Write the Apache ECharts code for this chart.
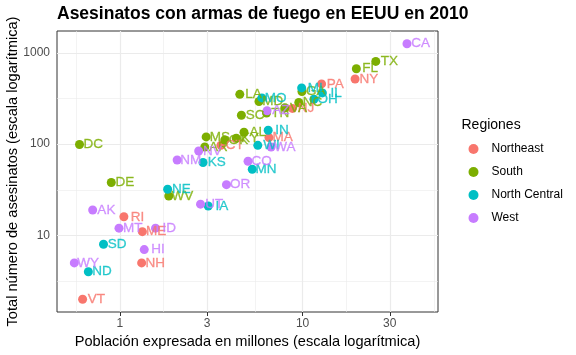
<!DOCTYPE html>
<html>
<head>
<meta charset="utf-8">
<script src="https://cdn.jsdelivr.net/npm/echarts@6/dist/echarts.min.js"></script>
<style>html,body{margin:0;padding:0;background:#fff}#c{width:576px;height:355px}</style>
</head>
<body>
<div id="c"></div>
<script>
// ---- data (dslabs murders, 2010) ----
const abb = ["AL","AK","AZ","AR","CA","CO","CT","DE","DC","FL","GA","HI","ID","IL","IN","IA","KS","KY","LA","ME","MD","MA","MI","MN","MS","MO","MT","NE","NV","NH","NJ","NM","NY","NC","ND","OH","OK","OR","PA","RI","SC","SD","TN","TX","UT","VT","VA","WA","WV","WI","WY"];
const region = ["South","West","West","South","West","West","Northeast","South","South","South","South","West","West","North Central","North Central","North Central","North Central","South","South","Northeast","South","Northeast","North Central","North Central","South","North Central","West","North Central","West","Northeast","Northeast","West","Northeast","South","North Central","North Central","South","West","Northeast","Northeast","South","North Central","South","South","West","Northeast","South","West","South","North Central","West"];
const population = [4779736,710231,6392017,2915918,37253956,5029196,3574097,897934,601723,19687653,9920000,1360301,1567582,12830632,6483802,3046355,2853118,4339367,4533372,1328361,5773552,6547629,9883640,5303925,2967297,5988927,989415,1826341,2700551,1316470,8791894,2059179,19378102,9535483,672591,11536504,3751351,3831074,12702379,1052567,4625364,814180,6346105,25145561,2763885,625741,8001024,6724540,1852994,5686986,563626];
const total = [135,19,232,93,1257,65,97,38,99,669,376,7,12,364,142,21,63,116,351,11,293,118,413,53,120,321,12,32,84,5,246,67,517,286,4,310,111,36,457,16,207,8,219,805,22,2,250,93,27,97,5];
const regions = ["Northeast","South","North Central","West"];
const regionColors = ["#F8766D","#7CAE00","#00BFC4","#C77CFF"];
const xTicks = [1,3,10,30];
const yTicks = [10,100,1000];
const nudgeX = 0.075; // log10 units, as geom_text(nudge_x)

// ---- scales (log10) ----
const L = Math.log10;
const xs = population.map(p => L(p/1e6));
const ys = total.map(L);
const xAll = xs.concat(xs.map(v => v + nudgeX));
function expand(arr){const mn=Math.min(...arr),mx=Math.max(...arr),d=(mx-mn)*0.05;return [mn-d,mx+d];}
const xr = expand(xAll), yr = expand(ys);

function minors(major, r){
  const out=[]; const step0 = major[1]-major[0];
  const pts=[major[0]-step0/2];
  for(let i=0;i<major.length-1;i++) pts.push((major[i]+major[i+1])/2);
  const stepN = major[major.length-1]-major[major.length-2];
  pts.push(major[major.length-1]+stepN/2);
  pts.forEach(v=>{ if(v>r[0]&&v<r[1]) out.push(v); });
  return out;
}
const xMaj = xTicks.map(L), yMaj = yTicks.map(L);
const xMin = minors(xMaj, xr), yMin = minors(yMaj, yr);

const gridLines = [];
xMin.forEach(v=>gridLines.push({xAxis:v, lineStyle:{width:0.6}}));
yMin.forEach(v=>gridLines.push({yAxis:v, lineStyle:{width:0.6}}));
xMaj.forEach(v=>gridLines.push({xAxis:v, lineStyle:{width:1.2}}));
yMaj.forEach(v=>gridLines.push({yAxis:v, lineStyle:{width:1.2}}));

const FONT = "'Liberation Sans', Arial, Helvetica, sans-serif";

const series = [{
  type:'scatter', name:'_grid', data:[], silent:true, z:1,
  markLine:{silent:true, z:1, symbol:['none','none'], label:{show:false}, animation:false,
    lineStyle:{color:'#EBEBEB', type:'solid'}, emphasis:{disabled:true}, data:gridLines}
}];
regions.forEach((rg,ri)=>{
  const pts=[];
  region.forEach((r,i)=>{ if(r===rg) pts.push([xs[i], ys[i], abb[i]]); });
  series.push({type:'scatter', name:rg, data:pts, symbol:'circle', symbolSize:9, z:10,
    itemStyle:{color:regionColors[ri], opacity:1}, emphasis:{disabled:true}});
});
regions.forEach((rg,ri)=>{
  const pts=[];
  region.forEach((r,i)=>{ if(r===rg) pts.push([xs[i]+nudgeX, ys[i], abb[i]]); });
  series.push({type:'scatter', name:rg+'_lab', data:pts, symbolSize:1, z:11, silent:true,
    itemStyle:{color:'rgba(0,0,0,0)'}, emphasis:{disabled:true},
    label:{show:true, position:'inside', formatter:p=>p.data[2], color:regionColors[ri],
      textBorderWidth:0.3, textBorderColor:regionColors[ri], textShadowBlur:0,
      fontSize:13.5, fontFamily:FONT, align:'center', verticalAlign:'middle'}});
});

const chart = echarts.init(document.getElementById('c'), null, {renderer:'canvas'});
chart.setOption({
  animation:false,
  backgroundColor:'#fff',
  title:[
    {text:'Asesinatos con armas de fuego en EEUU en 2010', left:57, top:5, padding:0,
      textStyle:{fontSize:17.5, fontWeight:'bold', color:'#000', fontFamily:FONT}},
    {text:'Regiones', left:461.5, top:118, padding:0, textStyle:{fontSize:14, fontWeight:'normal', color:'#000', fontFamily:FONT}}
  ],
  legend:{data:regions, orient:'vertical', left:468.5, top:142, padding:0, itemWidth:10, itemHeight:10, itemGap:9,
    icon:'circle', selectedMode:false,
    textStyle:{fontSize:12, color:'#000', fontFamily:FONT, lineHeight:14, padding:[0,0,0,8]}},
  grid:{left:57, top:31, right:138, bottom:43, show:true, borderColor:'#333333', borderWidth:1, backgroundColor:'#fff',
    containLabel:false, outerBoundsMode:'none'},
  xAxis:{type:'value', min:xr[0], max:xr[1], splitLine:{show:false},
    axisLine:{show:false}, axisTick:{show:true, customValues:xMaj, length:4, lineStyle:{color:'#333333'}},
    axisLabel:{customValues:xMaj, formatter:v=>String(Math.round(Math.pow(10,v))), color:'#4D4D4D', fontSize:12, margin:6, fontFamily:FONT},
    name:'Población expresada en millones (escala logarítmica)', nameLocation:'middle', nameGap:22, nameMoveOverlap:false,
    nameTextStyle:{fontSize:14.6, color:'#000', fontFamily:FONT, verticalAlign:'top'}},
  yAxis:{type:'value', min:yr[0], max:yr[1], splitLine:{show:false},
    axisLine:{show:false}, axisTick:{show:true, customValues:yMaj, length:4, lineStyle:{color:'#333333'}},
    axisLabel:{customValues:yMaj, formatter:v=>String(Math.round(Math.pow(10,v))), color:'#4D4D4D', fontSize:12, margin:7, fontFamily:FONT},
    name:'Total número de asesinatos (escala logarítmica)', nameLocation:'middle', nameGap:37, nameMoveOverlap:false,
    nameTextStyle:{fontSize:14.6, color:'#000', fontFamily:FONT}},
  series:series
});
</script>
</body>
</html>
